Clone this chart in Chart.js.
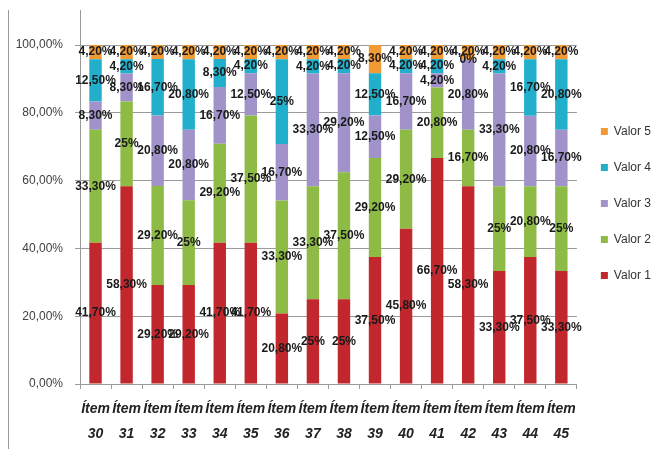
<!DOCTYPE html>
<html>
<head>
<meta charset="utf-8">
<script src="https://cdn.jsdelivr.net/npm/chart.js@4/dist/chart.umd.min.js"></script>
<style>
  html, body { margin: 0; padding: 0; background: #ffffff; }
  #wrap { width: 659px; height: 449px; position: relative; }
</style>
</head>
<body>
<div id="wrap"><canvas id="c" width="659" height="449"></canvas></div>
<script>
// Items on the x axis (two-line labels)
const items = ['30','31','32','33','34','35','36','37','38','39','40','41','42','43','44','45'];

// Percentage of answers for each value, per item
const valor1 = [41.7, 58.3, 29.2, 29.2, 41.7, 41.7, 20.8, 25,   25,   37.5, 45.8, 66.7, 58.3, 33.3, 37.5, 33.3];
const valor2 = [33.3, 25,   29.2, 25,   29.2, 37.5, 33.3, 33.3, 37.5, 29.2, 29.2, 20.8, 16.7, 25,   20.8, 25];
const valor3 = [8.3,  8.3,  20.8, 20.8, 16.7, 12.5, 16.7, 33.3, 29.2, 12.5, 16.7, 4.2,  20.8, 33.3, 20.8, 16.7];
const valor4 = [12.5, 4.2,  16.7, 20.8, 8.3,  4.2,  25,   4.2,  4.2,  12.5, 4.2,  4.2,  0,    4.2,  16.7, 20.8];
const valor5 = [4.2,  4.2,  4.2,  4.2,  4.2,  4.2,  4.2,  4.2,  4.2,  8.3,  4.2,  4.2,  4.2,  4.2,  4.2,  4.2];

// Y axis tick values
const yTicks = [0, 20, 40, 60, 80, 100];

const seriesNames = ['Valor 1', 'Valor 2', 'Valor 3', 'Valor 4', 'Valor 5'];
const seriesData = [valor1, valor2, valor3, valor4, valor5];
const seriesColors = ['#C1272D', '#8EBB46', '#A193C9', '#22AFCB', '#F29A35'];

function pctLabel(v) {
  return Number.isInteger(v) ? v + '%' : v.toFixed(2).replace('.', ',') + '%';
}

// Writes each segment's value at the centre of its bar piece
const segmentLabels = {
  id: 'segmentLabels',
  afterDatasetsDraw(chart) {
    const ctx = chart.ctx;
    ctx.save();
    ctx.font = 'bold 12px "Liberation Sans", Arial, sans-serif';
    ctx.fillStyle = '#1a1a1a';
    ctx.textAlign = 'center';
    ctx.textBaseline = 'middle';
    chart.data.datasets.forEach((ds, di) => {
      const meta = chart.getDatasetMeta(di);
      meta.data.forEach((bar, i) => {
        const v = ds.data[i];
        const p = bar.getProps(['x', 'y', 'base'], true);
        ctx.fillText(pctLabel(v), p.x, (p.y + p.base) / 2);
      });
    });
    ctx.restore();
  }
};

// Outer frame line and the upward run of the value axis
const frameLines = {
  id: 'frameLines',
  beforeDraw(chart) {
    const ctx = chart.ctx;
    const a = chart.chartArea;
    ctx.save();
    ctx.strokeStyle = '#9a9a9a';
    ctx.lineWidth = 1;
    ctx.beginPath();
    ctx.moveTo(8.5, 10);
    ctx.lineTo(8.5, 449);
    ctx.moveTo(Math.round(a.left) + 0.5, 10);
    ctx.lineTo(Math.round(a.left) + 0.5, a.top);
    ctx.stroke();
    ctx.restore();
  }
};

new Chart(document.getElementById('c'), {
  type: 'bar',
  data: {
    labels: items.map(n => ['Ítem', n]),
    datasets: seriesNames.map((name, k) => ({
      label: name,
      data: seriesData[k],
      backgroundColor: seriesColors[k],
      borderWidth: 0,
      barPercentage: 0.4,
      categoryPercentage: 1
    }))
  },
  options: {
    responsive: false,
    animation: false,
    devicePixelRatio: 1,
    layout: { padding: { top: 45, left: 0, right: -2, bottom: -5 } },
    plugins: {
      tooltip: { enabled: false },
      legend: {
        position: 'right',
        reverse: true,
        align: 'start',
        title: { display: true, text: ' ', font: { size: 12 }, padding: { top: 42, bottom: 0 } },
        labels: {
          boxWidth: 7,
          boxHeight: 7,
          padding: 24,
          color: '#333333',
          font: { family: '"Liberation Sans", Arial, sans-serif', size: 12 }
        }
      }
    },
    scales: {
      x: {
        stacked: true,
        grid: { drawOnChartArea: false, drawTicks: true, tickLength: 5, color: '#9a9a9a', offset: true },
        border: { color: '#9a9a9a' },
        ticks: {
          color: '#222222',
          padding: 8,
          maxRotation: 0,
          autoSkip: false,
          font: { family: '"Liberation Sans", Arial, sans-serif', size: 14, style: 'italic', weight: 'bold', lineHeight: 1.75 }
        }
      },
      y: {
        stacked: true,
        min: 0,
        max: 100,
        afterFit(scale) { scale.width = 80; },
        afterBuildTicks(scale) { scale.ticks = yTicks.map(v => ({ value: v })); },
        grid: { color: '#9a9a9a', tickLength: 5, drawTicks: true },
        border: { color: '#9a9a9a' },
        ticks: {
          color: '#404040',
          padding: 12,
          font: { family: '"Liberation Sans", Arial, sans-serif', size: 12 },
          callback: v => v.toFixed(2).replace('.', ',') + '%'
        }
      }
    }
  },
  plugins: [segmentLabels, frameLines]
});
</script>
</body>
</html>
